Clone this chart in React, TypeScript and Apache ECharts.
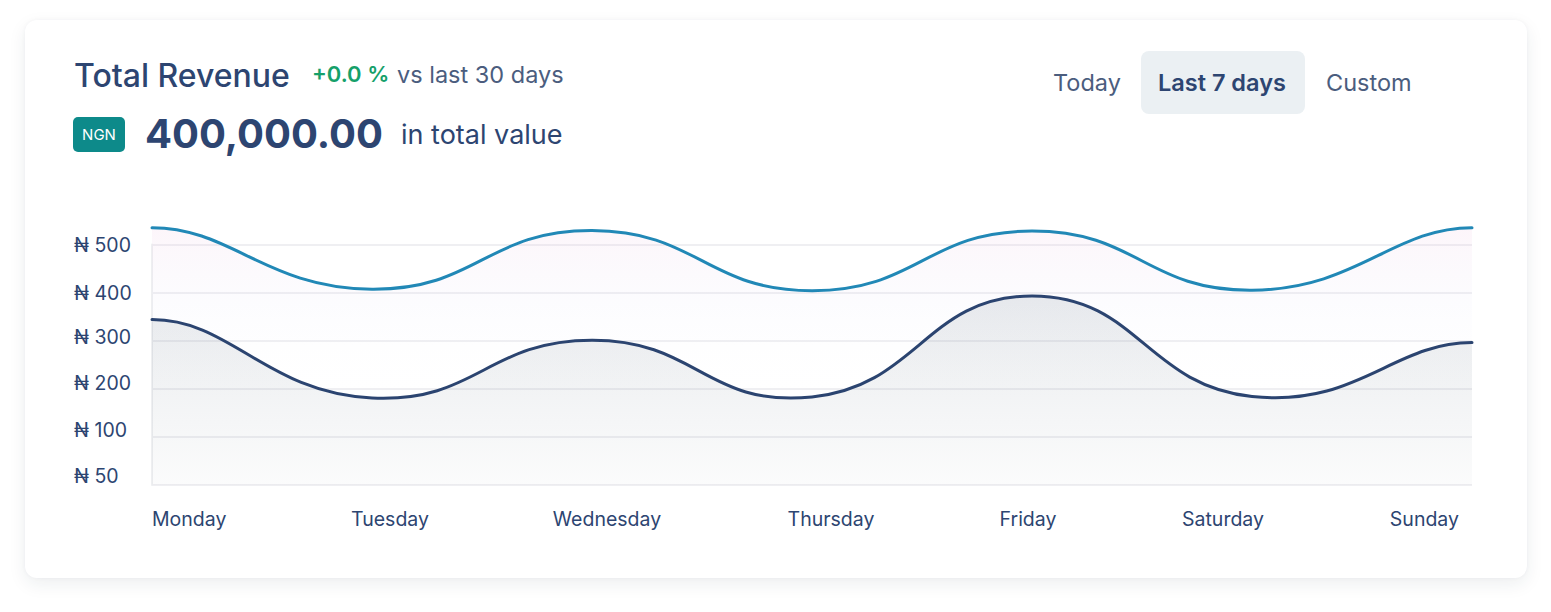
import React, { useEffect, useRef } from "react";
import * as echarts from "echarts";

const days = ["Monday", "Tuesday", "Wednesday", "Thursday", "Friday", "Saturday", "Sunday"];
const currentRevenue = [535, 407, 529, 404, 528, 405, 535];
const previousRevenue = [344, 181, 301, 183, 393, 184, 296];
const yTickLabels = ["₦ 50", "₦ 100", "₦ 200", "₦ 300", "₦ 400", "₦ 500"];
const periodOptions = ["Today", "Last 7 days", "Custom"];

const NAVY = "#2d4571";
const SLATE = "#4b5d7e";
const FONT = "Inter, 'Noto Sans', sans-serif";
const K_MID = 0.48;
const K_END = 0.36;

function curveSeries(name: string, values: number[], color: string, stops: { offset: number; color: string }[]) {
  return {
    name,
    type: "custom",
    data: values.map((v, i) => [i, v]),
    encode: { x: 0, y: 1 },
    clip: false,
    renderItem: (params: any, api: any) => {
      if (params.dataIndex !== 0) return null;
      const pts = values.map((v, i) => api.coord([i, v]));
      const n = pts.length;
      const slope = (i: number) => {
        if (i === 0 || i === n - 1) return 0;
        return (pts[i + 1][1] - pts[i - 1][1]) / (pts[i + 1][0] - pts[i - 1][0]);
      };
      let line = `M${pts[0][0]},${pts[0][1]}`;
      for (let i = 0; i < n - 1; i++) {
        const [x0, y0] = pts[i];
        const [x1, y1] = pts[i + 1];
        const dx = x1 - x0;
        const k0 = i === 0 ? K_END : K_MID;
        const k1 = i + 1 === n - 1 ? K_END : K_MID;
        const m0 = slope(i);
        const m1 = slope(i + 1);
        line += ` C${x0 + k0 * dx},${y0 + m0 * k0 * dx} ${x1 - k1 * dx},${y1 - m1 * k1 * dx} ${x1},${y1}`;
      }
      const base = api.coord([0, 0])[1];
      const area = `${line} L${pts[n - 1][0]},${base} L${pts[0][0]},${base} Z`;
      const top = Math.min(...pts.map((p: number[]) => p[1]));
      return {
        type: "group",
        children: [
          {
            type: "path",
            shape: { pathData: area },
            style: { fill: new echarts.graphic.LinearGradient(0, top, 0, base, stops, true), stroke: "none" },
            silent: true,
          },
          {
            type: "path",
            shape: { pathData: line },
            style: { fill: "none", stroke: color, lineWidth: 3, lineJoin: "round", lineCap: "round" },
            silent: true,
          },
        ],
      };
    },
  };
}

export default function App() {
  const ref = useRef<HTMLDivElement>(null);

  useEffect(() => {
    if (!ref.current) return;
    const chart = echarts.init(ref.current, undefined, { renderer: "svg" });

    // horizontal nudges (px) applied to x-axis labels so they match the picture
    const xNudge = [0, 18, 15, 19, -4, -29, 13];
    const xRich: Record<string, any> = {};
    xNudge.forEach((n, i) => {
      const pad = Math.abs(n) * 2;
      let padding: number[];
      if (i === 0) padding = [0, 0, 0, 0];
      else if (i === days.length - 1) padding = [0, n, 0, 0];
      else padding = n >= 0 ? [0, 0, 0, pad] : [0, pad, 0, 0];
      xRich["d" + i] = { fontSize: 19.5, color: NAVY, fontFamily: FONT, padding };
    });
    const yLift = [18, 14, 11, 7, 0, 0];
    const yRich: Record<string, any> = {};
    yLift.forEach((p, i) => {
      yRich["y" + i] = { fontSize: 19.5, color: NAVY, fontFamily: FONT, padding: [0, 0, p, 0] };
    });

    const option: any = {
      animation: false,
      grid: { left: 152, right: 79, top: 244.5, bottom: 127 },
      xAxis: {
        type: "category",
        data: days,
        boundaryGap: false,
        axisLine: { show: false },
        axisTick: { show: false },
        splitLine: { show: false },
        axisLabel: {
          margin: 24,
          fontSize: 19.5,
          color: NAVY,
          fontFamily: FONT,
          alignMinLabel: "left",
          alignMaxLabel: "right",
          formatter: (v: string, i: number) => `{d${i}|${v}}`,
          rich: xRich,
        },
      },
      yAxis: {
        type: "value",
        min: 0,
        max: 500,
        interval: 100,
        axisLine: { show: true, lineStyle: { color: "#eeeff1", width: 2 } },
        axisTick: { show: false },
        splitLine: { lineStyle: { color: "#efeff2", width: 2 } },
        axisLabel: {
          align: "left",
          margin: 78,
          fontSize: 19.5,
          color: NAVY,
          fontFamily: FONT,
          formatter: (v: number) => {
            const i = Math.round(v / 100);
            return `{y${i}|${yTickLabels[i]}}`;
          },
          rich: yRich,
        },
      },
      series: [
        curveSeries("Current period", currentRevenue, "#2188b6", [
          { offset: 0, color: "rgba(236,176,216,0.12)" },
          { offset: 0.3, color: "rgba(214,214,244,0.07)" },
          { offset: 0.7, color: "rgba(255,255,255,0)" },
          { offset: 1, color: "rgba(255,255,255,0)" },
        ]),
        curveSeries("Previous period", previousRevenue, "#2b4470", [
          { offset: 0, color: "rgba(55,75,95,0.11)" },
          { offset: 1, color: "rgba(55,75,95,0.02)" },
        ]),
      ],
      graphic: [
        {
          type: "text",
          left: 74,
          top: 59,
          style: { text: "Total Revenue", fontSize: 32, fontWeight: 500, fill: NAVY, fontFamily: FONT },
        },
        {
          type: "text",
          left: 312,
          top: 63,
          style: { text: "+0.0 %", fontSize: 22, fontWeight: 600, fill: "#15a06a", fontFamily: FONT },
        },
        {
          type: "text",
          left: 397,
          top: 62,
          style: { text: "vs last 30 days", fontSize: 23.5, fontWeight: 400, fill: SLATE, fontFamily: FONT },
        },
        {
          type: "rect",
          shape: { x: 73, y: 117, width: 52, height: 35, r: 5 },
          style: { fill: "#0d8a8a" },
        },
        {
          type: "text",
          x: 99,
          y: 134.5,
          style: {
            text: "NGN",
            fontSize: 15,
            fill: "#ffffff",
            fontFamily: FONT,
            align: "center",
            verticalAlign: "middle",
          },
        },
        {
          type: "text",
          left: 145,
          top: 113,
          style: { text: "400,000.00", fontSize: 40, fontWeight: 700, fill: NAVY, fontFamily: FONT },
        },
        {
          type: "text",
          left: 401,
          top: 121,
          style: { text: "in total value", fontSize: 27, fontWeight: 400, fill: NAVY, fontFamily: FONT },
        },
        {
          type: "rect",
          shape: { x: 1141, y: 51, width: 164, height: 63, r: 8 },
          style: { fill: "#ebf0f3" },
        },
        {
          type: "text",
          x: 1053,
          y: 82.5,
          style: { text: periodOptions[0], fontSize: 23.5, fill: SLATE, fontFamily: FONT, verticalAlign: "middle" },
        },
        {
          type: "text",
          x: 1158,
          y: 82.5,
          style: {
            text: periodOptions[1],
            fontSize: 23.5,
            fontWeight: 600,
            fill: NAVY,
            fontFamily: FONT,
            verticalAlign: "middle",
          },
        },
        {
          type: "text",
          x: 1326,
          y: 82.5,
          style: { text: periodOptions[2], fontSize: 23.5, fill: SLATE, fontFamily: FONT, verticalAlign: "middle" },
        },
      ],
    };

    chart.setOption(option);
    return () => chart.dispose();
  }, []);

  return (
    <div style={{ position: "absolute", left: 0, top: 0, width: 1551, height: 612, background: "#ffffff" }}>
      <div
        style={{
          position: "absolute",
          left: 25,
          top: 20,
          width: 1502,
          height: 558,
          borderRadius: 12,
          background: "#ffffff",
          boxShadow: "0 6px 18px rgba(30,45,70,0.08), 0 0 4px rgba(30,45,70,0.04)",
        }}
      />
      <div ref={ref} style={{ position: "absolute", left: 0, top: 0, width: 1551, height: 612 }} />
    </div>
  );
}
